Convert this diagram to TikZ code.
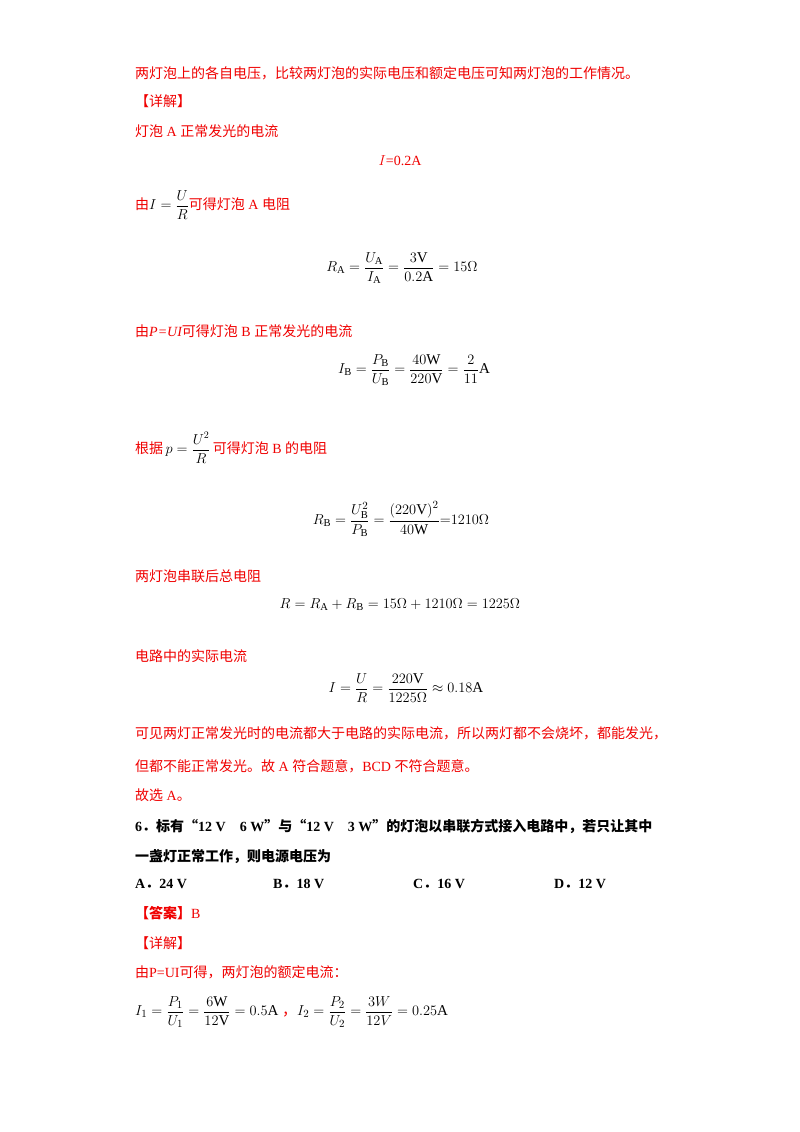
\documentclass[tikz,border=0pt]{standalone}
\usepackage{amsmath}
\usepackage{fontspec}
\setmainfont{Liberation Serif}
\newfontfamily\cjk{Noto Sans CJK SC}
\definecolor{rd}{RGB}{240,0,0}
\begin{document}
\begin{tikzpicture}[x=1pt,y=-1pt,
  every node/.style={inner sep=0pt,font=\fontsize{14}{17}\selectfont},
  rt/.style={anchor=west,text=rd},
  bk/.style={anchor=west,text=black},
  eq/.style={text=black,font=\fontsize{15}{18}\selectfont}]
\fill[white] (0,0) rectangle (800,1132);
\node[rt] (l1) at (135,73) {\cjk 两灯泡上的各自电压，比较两灯泡的实际电压和额定电压可知两灯泡的工作情况。};
\node[rt] (l2) at (135,101) {\cjk 【详解】};
\node[rt] (l3) at (135,131) {\cjk 灯泡\rmfamily\ A\ \cjk 正常发光的电流};
\node[text=rd] (l4) at (400,161) {$I$=0.2A};
\node[rt] (l5) at (135,205) {\cjk 由\rmfamily\color{black}$I=\dfrac{U}{R}$\color{rd}\cjk 可得灯泡\rmfamily\ A\ \cjk 电阻};
\node[eq] (e1) at (402,268) {$R_{\mathrm A}=\dfrac{U_{\mathrm A}}{I_{\mathrm A}}=\dfrac{3\mathrm{V}}{0.2\mathrm{A}}=15\Omega$};
\node[rt] (l6) at (135,331) {\cjk 由\rmfamily\itshape P=UI\upshape\cjk 可得灯泡\rmfamily\ B\ \cjk 正常发光的电流};
\node[eq] (e2) at (414,370) {$I_{\mathrm B}=\dfrac{P_{\mathrm B}}{U_{\mathrm B}}=\dfrac{40\mathrm{W}}{220\mathrm{V}}=\dfrac{2}{11}\mathrm{A}$};
\node[rt] (l7) at (135,448) {\cjk 根据\rmfamily\color{black}\,$p=\dfrac{U^2}{R}$\,\color{rd}\cjk 可得灯泡\rmfamily\ B\ \cjk 的电阻};
\node[eq] (e3) at (401,519) {$R_{\mathrm B}=\dfrac{U_{\mathrm B}^2}{P_{\mathrm B}}=\dfrac{\left(220\mathrm{V}\right)^2}{40\mathrm{W}}{=}1210\Omega$};
\node[rt] (l8) at (135,576) {\cjk 两灯泡串联后总电阻};
\node[eq] (e4) at (400,605) {$R=R_{\mathrm A}+R_{\mathrm B}=15\Omega+1210\Omega=1225\Omega$};
\node[rt] (l9) at (135,656) {\cjk 电路中的实际电流};
\node[eq] (e5) at (406,688) {$I=\dfrac{U}{R}=\dfrac{220\mathrm{V}}{1225\Omega}\approx0.18\mathrm{A}$};
\node[rt] (l10) at (135,733) {\cjk 可见两灯正常发光时的电流都大于电路的实际电流，所以两灯都不会烧坏，都能发光，};
\node[rt] (l11) at (135,766) {\cjk 但都不能正常发光。故\rmfamily\ A\ \cjk 符合题意，\rmfamily BCD\ \cjk 不符合题意。};
\node[rt] (l12) at (135,795) {\cjk 故选\rmfamily\ A\cjk 。};
\node[bk] (q1) at (135,826) {\bfseries 6\cjk ．标有“\rmfamily\bfseries 12 V\quad 6 W\cjk ”与“\rmfamily\bfseries 12 V\quad 3 W\cjk ”的灯泡以串联方式接入电路中，若只让其中};
\node[bk] (q2) at (135,857) {\cjk\bfseries 一盏灯正常工作，则电源电压为};
\node[bk] (oa) at (135,884) {\bfseries A\cjk ．\rmfamily\bfseries 24 V};
\node[bk] (ob) at (273,884) {\bfseries B\cjk ．\rmfamily\bfseries 18 V};
\node[bk] (oc) at (413,884) {\bfseries C\cjk ．\rmfamily\bfseries 16 V};
\node[bk] (od) at (554,884) {\bfseries D\cjk ．\rmfamily\bfseries 12 V};
\node[rt] (an) at (135,913) {\cjk\bfseries 【答案】\rmfamily\mdseries B};
\node[rt] (l13) at (135,943) {\cjk 【详解】};
\node[rt] (l14) at (135,972) {\cjk 由\rmfamily P=UI\cjk 可得，两灯泡的额定电流：};
\node[eq,anchor=west] (e6) at (135,1012) {$I_1=\dfrac{P_1}{U_1}=\dfrac{6\mathrm{W}}{12\mathrm{V}}=0.5\mathrm{A}$\ \textcolor{rd}{\cjk ，}$I_2=\dfrac{P_2}{U_2}=\dfrac{3W}{12V}=0.25\mathrm{A}$};
\end{tikzpicture}
\end{document}
